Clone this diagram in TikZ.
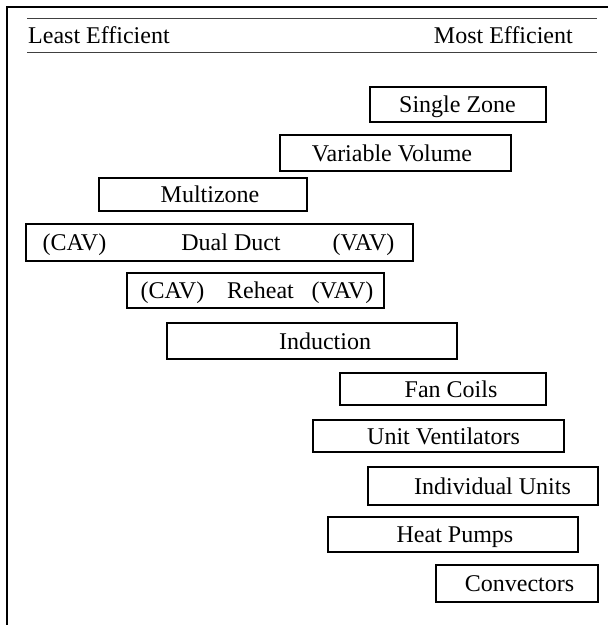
\documentclass[tikz,border=0pt]{standalone}
\usepackage{fontspec}
\setmainfont{Liberation Serif}
\newlength{\du}
\setlength{\du}{1pt}

\begin{document}
\begin{tikzpicture}[
  bar/.style={rectangle, draw=black, line width=1.5\du, fill=white, inner sep=0pt},
  lbl/.style={anchor=base, inner sep=0pt, font=\fontsize{24}{28}\selectfont},
  hrule/.style={line width=1.2\du, draw=black!75}]
\pgftransformxscale{1.000000}
\pgftransformyscale{-1.000000}
\useasboundingbox (0\du,0\du) rectangle (608\du,625\du);
% frame
\draw[line width=2\du] (7.000000\du,640.000000\du)--(7.000000\du,7.000000\du)--(620.000000\du,7.000000\du);
% header
\draw[hrule] (27.000000\du,18.500000\du)--(597.000000\du,18.500000\du);
\node[lbl, anchor=base west] (least) at (28.000000\du,43.000000\du){Least Efficient};
\node[lbl, anchor=base east] (most) at (573.000000\du,43.000000\du){Most Efficient};
\draw[hrule] (27.000000\du,52.500000\du)--(597.000000\du,52.500000\du);
% systems
\node[bar, minimum width=176\du, minimum height=35\du] (single) at (458.000000\du,104.500000\du){};
\node[lbl] (singleT) at (457.500000\du,112.500000\du){Single Zone};
\node[bar, minimum width=231\du, minimum height=36\du] (varvol) at (395.500000\du,153.000000\du){};
\node[lbl] (varvolT) at (392.000000\du,161.000000\du){Variable Volume};
\node[bar, minimum width=208\du, minimum height=33\du] (multi) at (203.000000\du,194.500000\du){};
\node[lbl] (multiT) at (210.000000\du,202.500000\du){Multizone};
\node[bar, minimum width=387\du, minimum height=37\du] (dual) at (219.500000\du,242.500000\du){};
\node[lbl] (dualL) at (74.500000\du,250.500000\du){(CAV)};
\node[lbl] (dualM) at (231.000000\du,250.500000\du){Dual Duct};
\node[lbl] (dualR) at (363.500000\du,250.500000\du){(VAV)};
\node[bar, minimum width=257\du, minimum height=35\du] (reheat) at (255.500000\du,290.500000\du){};
\node[lbl] (reheatL) at (172.500000\du,298.500000\du){(CAV)};
\node[lbl] (reheatM) at (260.500000\du,298.500000\du){Reheat};
\node[lbl] (reheatR) at (342.500000\du,298.500000\du){(VAV)};
\node[bar, minimum width=290\du, minimum height=36\du] (induct) at (312.000000\du,341.000000\du){};
\node[lbl] (inductT) at (325.000000\du,349.000000\du){Induction};
\node[bar, minimum width=206\du, minimum height=32\du] (fancoil) at (443.000000\du,389.000000\du){};
\node[lbl] (fancoilT) at (451.000000\du,397.000000\du){Fan Coils};
\node[bar, minimum width=251\du, minimum height=32\du] (unitvent) at (438.500000\du,436.000000\du){};
\node[lbl] (unitventT) at (443.500000\du,444.000000\du){Unit Ventilators};
\node[bar, minimum width=230\du, minimum height=38\du] (indiv) at (483.000000\du,486.000000\du){};
\node[lbl] (indivT) at (492.500000\du,494.000000\du){Individual Units};
\node[bar, minimum width=250\du, minimum height=35\du] (heatpump) at (453.000000\du,534.500000\du){};
\node[lbl] (heatpumpT) at (455.000000\du,542.500000\du){Heat Pumps};
\node[bar, minimum width=162\du, minimum height=37\du] (convect) at (517.000000\du,583.500000\du){};
\node[lbl] (convectT) at (519.500000\du,591.500000\du){Convectors};
\end{tikzpicture}
\end{document}
